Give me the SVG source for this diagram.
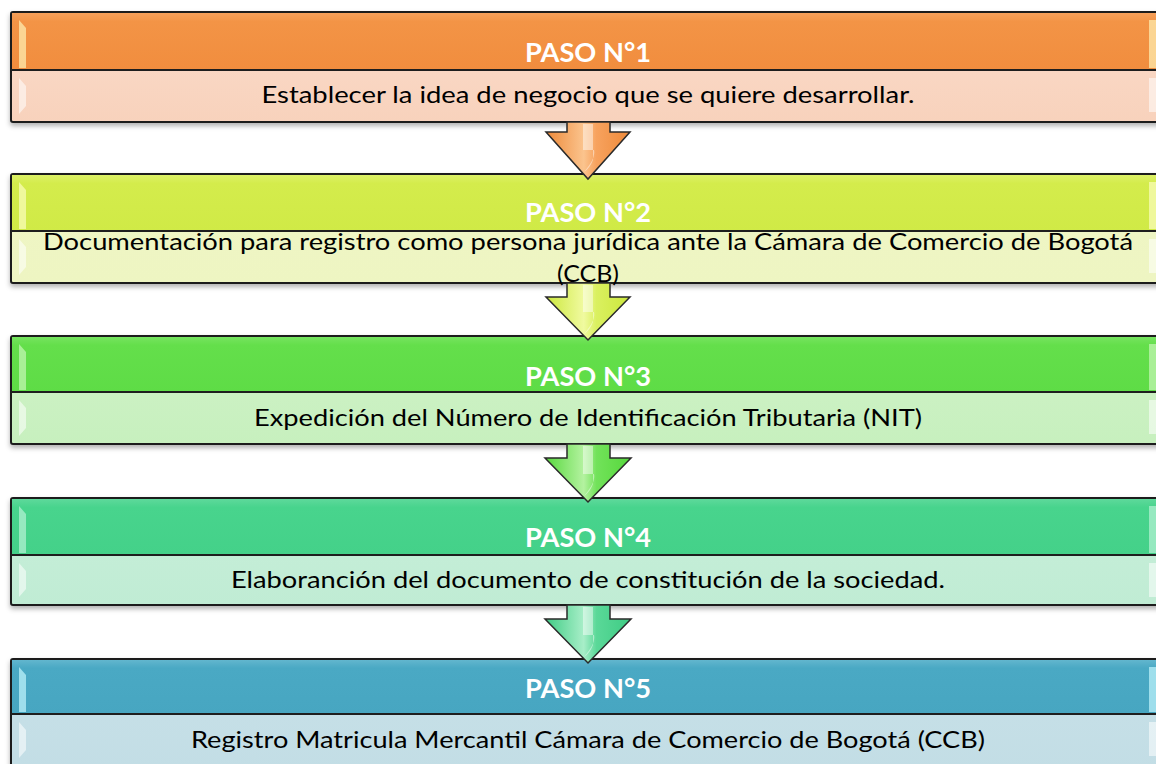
<svg xmlns="http://www.w3.org/2000/svg" width="1156" height="764" viewBox="0 0 1156 764">
<style>
.box{stroke:#1e1e1e;stroke-width:2}
.div{stroke:#1e1e1e;stroke-width:2}
.hd{font-family:Lato,"Open Sans","Liberation Sans",sans-serif;font-weight:bold;font-size:26px;fill:#ffffff;text-anchor:middle}
.bd{font-family:Lato,"Open Sans","Liberation Sans",sans-serif;font-size:24px;fill:#000000;text-anchor:middle}
.hl{fill:#ffffff;opacity:0.55}
.arr{stroke:#2a2a2a;stroke-width:1.5;stroke-linejoin:miter}
.gloss{fill:#ffffff;opacity:0.45}
</style>
<defs>
<filter id="sh" x="-5%" y="-20%" width="110%" height="150%">
<feDropShadow dx="0" dy="3" stdDeviation="2.5" flood-color="#000" flood-opacity="0.3"/>
</filter>
<linearGradient id="h1" x1="0" y1="0" x2="0" y2="1"><stop offset="0" stop-color="#F6A05A"/><stop offset="0.15" stop-color="#F39446"/><stop offset="1" stop-color="#F18D3E"/></linearGradient>
<linearGradient id="b1" x1="0" y1="0" x2="0" y2="1"><stop offset="0" stop-color="#FBDCCB"/><stop offset="1" stop-color="#F8D2BC"/></linearGradient>
<linearGradient id="h2" x1="0" y1="0" x2="0" y2="1"><stop offset="0" stop-color="#DCF066"/><stop offset="0.15" stop-color="#D4EC4C"/><stop offset="1" stop-color="#D0EA46"/></linearGradient>
<linearGradient id="b2" x1="0" y1="0" x2="0" y2="1"><stop offset="0" stop-color="#EFF6C6"/><stop offset="1" stop-color="#EEF5C2"/></linearGradient>
<linearGradient id="h3" x1="0" y1="0" x2="0" y2="1"><stop offset="0" stop-color="#76E45F"/><stop offset="0.15" stop-color="#64DF4B"/><stop offset="1" stop-color="#5EDC46"/></linearGradient>
<linearGradient id="b3" x1="0" y1="0" x2="0" y2="1"><stop offset="0" stop-color="#D0F2C8"/><stop offset="1" stop-color="#C7F0BE"/></linearGradient>
<linearGradient id="h4" x1="0" y1="0" x2="0" y2="1"><stop offset="0" stop-color="#5ED99B"/><stop offset="0.15" stop-color="#48D48D"/><stop offset="1" stop-color="#44D189"/></linearGradient>
<linearGradient id="b4" x1="0" y1="0" x2="0" y2="1"><stop offset="0" stop-color="#C8EFDA"/><stop offset="1" stop-color="#C0ECD4"/></linearGradient>
<linearGradient id="h5" x1="0" y1="0" x2="0" y2="1"><stop offset="0" stop-color="#62B6CE"/><stop offset="0.15" stop-color="#4AA9C4"/><stop offset="1" stop-color="#47A6C1"/></linearGradient>
<linearGradient id="b5" x1="0" y1="0" x2="0" y2="1"><stop offset="0" stop-color="#C8E1E8"/><stop offset="1" stop-color="#C2DDE5"/></linearGradient>
<linearGradient id="a1" x1="0" y1="0" x2="1" y2="0"><stop offset="0" stop-color="#EE8A3A"/><stop offset="0.45" stop-color="#FBC48E"/><stop offset="0.6" stop-color="#F7A25E"/><stop offset="1" stop-color="#EE8A3A"/></linearGradient>
<linearGradient id="a2" x1="0" y1="0" x2="1" y2="0"><stop offset="0" stop-color="#CCE83C"/><stop offset="0.45" stop-color="#F0FAA0"/><stop offset="0.6" stop-color="#DAF060"/><stop offset="1" stop-color="#CCE83C"/></linearGradient>
<linearGradient id="a3" x1="0" y1="0" x2="1" y2="0"><stop offset="0" stop-color="#56D83C"/><stop offset="0.45" stop-color="#B4F2A0"/><stop offset="0.6" stop-color="#72E25A"/><stop offset="1" stop-color="#56D83C"/></linearGradient>
<linearGradient id="a4" x1="0" y1="0" x2="1" y2="0"><stop offset="0" stop-color="#3ECC84"/><stop offset="0.45" stop-color="#A8EEC8"/><stop offset="0.6" stop-color="#5AD898"/><stop offset="1" stop-color="#3ECC84"/></linearGradient>
</defs>
<rect x="0" y="0" width="1156" height="764" fill="#ffffff"/>

<g id="paso1">
<rect class="box" x="11" y="12" width="1156" height="110" rx="2" fill="url(#b1)" filter="url(#sh)"/>
<rect x="12" y="13" width="1154" height="57" fill="url(#h1)"/>
<line class="div" x1="11" y1="70" x2="1167" y2="70"/>
<polygon points="19,20 26,28 26,68 19,68" fill="#FDE6A8" opacity="0.8"/>
<polygon class="hl" points="19,78 26,86 26,106 19,114"/>
<rect x="1149" y="20" width="7" height="48" fill="#FDE6A8" opacity="0.8"/>
<rect x="1149" y="78" width="7" height="34" class="hl"/>
<text class="hd" x="588" y="62" textLength="126" lengthAdjust="spacingAndGlyphs">PASO N°1</text>
<text class="bd" x="588" y="103" textLength="653" lengthAdjust="spacingAndGlyphs">Establecer la idea de negocio que se quiere desarrollar.</text>
</g>

<g id="paso2">
<rect class="box" x="11" y="174" width="1156" height="109" rx="2" fill="url(#b2)" filter="url(#sh)"/>
<rect x="12" y="175" width="1154" height="56" fill="url(#h2)"/>
<line class="div" x1="11" y1="231" x2="1167" y2="231"/>
<polygon points="19,182 26,190 26,229 19,229" fill="#F6FBB0" opacity="0.8"/>
<polygon class="hl" points="19,239 26,247 26,267 19,275"/>
<rect x="1149" y="182" width="7" height="47" fill="#F6FBB0" opacity="0.8"/>
<rect x="1149" y="239" width="7" height="34" class="hl"/>
</g>

<g id="paso3">
<rect class="box" x="11" y="336" width="1156" height="108" rx="2" fill="url(#b3)" filter="url(#sh)"/>
<rect x="12" y="337" width="1154" height="55" fill="url(#h3)"/>
<line class="div" x1="11" y1="392" x2="1167" y2="392"/>
<polygon points="19,344 26,352 26,390 19,390" fill="#C8F7B8" opacity="0.7"/>
<polygon class="hl" points="19,400 26,408 26,428 19,436"/>
<rect x="1149" y="344" width="7" height="46" fill="#C8F7B8" opacity="0.7"/>
<rect x="1149" y="400" width="7" height="34" class="hl"/>
</g>

<g id="paso4">
<rect class="box" x="11" y="498" width="1156" height="107" rx="2" fill="url(#b4)" filter="url(#sh)"/>
<rect x="12" y="499" width="1154" height="56" fill="url(#h4)"/>
<line class="div" x1="11" y1="555" x2="1167" y2="555"/>
<polygon points="19,506 26,514 26,553 19,553" fill="#B8F2D6" opacity="0.7"/>
<polygon class="hl" points="19,563 26,571 26,589 19,597"/>
<rect x="1149" y="506" width="7" height="47" fill="#B8F2D6" opacity="0.7"/>
<rect x="1149" y="563" width="7" height="34" class="hl"/>
</g>

<g id="paso5">
<rect class="box" x="11" y="659" width="1156" height="120" rx="2" fill="url(#b5)" filter="url(#sh)"/>
<rect x="12" y="660" width="1154" height="54" fill="url(#h5)"/>
<line class="div" x1="11" y1="714" x2="1167" y2="714"/>
<polygon points="19,667 26,675 26,712 19,712" fill="#B4ECF6" opacity="0.8"/>
<polygon class="hl" points="19,722 26,730 26,750 19,758"/>
<rect x="1149" y="667" width="7" height="45" fill="#B4ECF6" opacity="0.8"/>
<rect x="1149" y="722" width="7" height="34" class="hl"/>
</g>

<g id="connectors">
<path class="arr" d="M567,122 L610,122 L610,132 L630,132 L588,179 L546,132 L567,132 Z" fill="url(#a1)"/>
<path class="gloss" d="M583,124 L593,124 L593,160 Q590,168 584,172 Q596,158 594,150 L583,150 Z"/>
<path class="arr" d="M567,283 L610,283 L610,297 L630,297 L588,340 L546,297 L567,297 Z" fill="url(#a2)"/>
<path class="gloss" d="M583,285 L593,285 L593,322 Q590,330 584,334 Q596,320 594,312 L583,312 Z"/>
<path class="arr" d="M567,444 L610,444 L610,458 L631,458 L588,502 L545,458 L567,458 Z" fill="url(#a3)"/>
<path class="gloss" d="M583,446 L593,446 L593,484 Q590,492 584,496 Q596,482 594,474 L583,474 Z"/>
<path class="arr" d="M567,605 L610,605 L610,619 L631,619 L588,663 L545,619 L567,619 Z" fill="url(#a4)"/>
<path class="gloss" d="M583,607 L593,607 L593,645 Q590,653 584,657 Q596,643 594,635 L583,635 Z"/>
</g>

<g id="labels">
<text class="hd" x="588" y="222" textLength="126" lengthAdjust="spacingAndGlyphs">PASO N°2</text>
<text class="bd" x="588" y="250" textLength="1090" lengthAdjust="spacingAndGlyphs">Documentación para registro como persona jurídica ante la Cámara de Comercio de Bogotá</text>
<text class="bd" x="588" y="282" textLength="62" lengthAdjust="spacingAndGlyphs">(CCB)</text>
<text class="hd" x="588" y="386" textLength="126" lengthAdjust="spacingAndGlyphs">PASO N°3</text>
<text class="bd" x="588" y="426" textLength="668" lengthAdjust="spacingAndGlyphs">Expedición del Número de Identificación Tributaria (NIT)</text>
<text class="hd" x="588" y="547" textLength="126" lengthAdjust="spacingAndGlyphs">PASO N°4</text>
<text class="bd" x="588" y="588" textLength="714" lengthAdjust="spacingAndGlyphs">Elaboranción del documento de constitución de la sociedad.</text>
<text class="hd" x="588" y="698" textLength="126" lengthAdjust="spacingAndGlyphs">PASO N°5</text>
<text class="bd" x="588" y="748" textLength="794" lengthAdjust="spacingAndGlyphs">Registro Matricula Mercantil Cámara de Comercio de Bogotá (CCB)</text>
</g>
</svg>
